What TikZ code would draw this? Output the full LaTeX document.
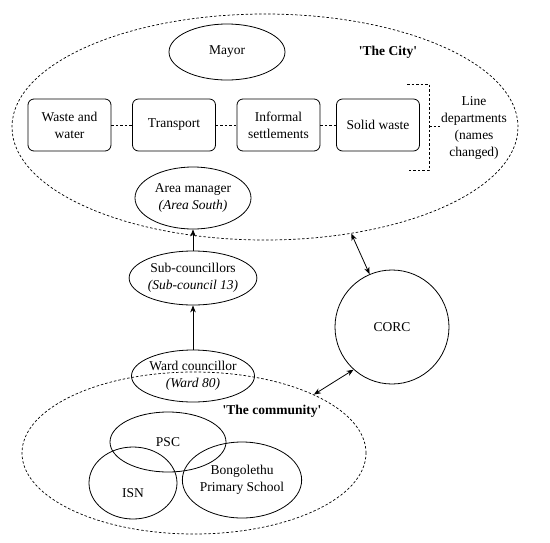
\documentclass[tikz,border=0pt]{standalone}
\usepackage{fontspec}
\setmainfont{Liberation Serif}
\usetikzlibrary{shapes.geometric,arrows.meta}
\begin{document}
\begin{tikzpicture}[x=1pt,y=-1pt,
 every node/.style={font=\fontsize{13.5}{17}\selectfont, align=center},
 ell/.style={draw, ellipse, inner sep=0pt, line width=0.8pt},
 dept/.style={draw, rounded corners=6pt, minimum width=83pt, minimum height=52pt, inner sep=0pt, line width=0.8pt},
 dsh/.style={dash pattern=on 2.5pt off 2pt, line width=0.7pt},
 arr/.style={-{Stealth[length=7pt,width=5.5pt]}, line width=0.8pt},
 darr/.style={{Stealth[length=7pt,width=5.5pt]}-{Stealth[length=7pt,width=5.5pt]}, line width=0.8pt},
 boldlabel/.style={font=\fontsize{13.5}{17}\selectfont\bfseries}]
\useasboundingbox (0,0) rectangle (550,542);

% The City
\node[draw, ellipse, dsh, minimum width=506pt, minimum height=226pt] (city) at (265,127) {};
\node[boldlabel] (citylabel) at (388,52) {\textquotesingle The City\textquotesingle};
\node[ell, minimum width=116pt, minimum height=56pt] (mayor) at (227,52) {Mayor};

\node[dept] (ww) at (69.5,125) {Waste and\\water};
\node[dept] (tr) at (174,125) {Transport};
\node[dept] (inf) at (278.5,125) {Informal\\settlements};
\node[dept] (sw) at (378,125) {Solid waste};
\draw[dsh] (ww) -- (tr);
\draw[dsh] (tr) -- (inf);
\draw[dsh] (inf) -- (sw);

\coordinate (b1) at (407,84);
\coordinate (b2) at (429,84);
\coordinate (b3) at (429,170);
\coordinate (b4) at (407,170);
\coordinate (bm) at (429,126);
\draw[dsh] (b1) -- (b2) -- (b3) -- (b4);
\node[inner sep=1pt] (lined) at (474,128) {Line\\departments\\(names\\changed)};
\draw[dsh] (bm) -- (lined.west |- bm);

\node[ell, minimum width=116pt, minimum height=62pt] (area) at (193,198) {Area manager\\\textit{(Area South)}};
\node[ell, minimum width=116pt, minimum height=54pt] (sub) at (193,278) {Sub-councillors\\\textit{(Sub-council 13)}};
\node[ell, minimum width=116pt, minimum height=52pt] (ward) at (193,376) {Ward councillor\\\textit{(Ward 80)}};
\draw[arr] (sub) -- (area);
\draw[arr] (ward) -- (sub);

\node[draw, circle, line width=0.8pt, minimum size=114pt, inner sep=0pt] (corc) at (392,327) {CORC};

% The community
\node[draw, ellipse, dsh, minimum width=344pt, minimum height=162pt] (comm) at (194,453) {};
\node[boldlabel] (commlabel) at (272,411) {\textquotesingle The community\textquotesingle};
\node[ell, minimum width=116pt, minimum height=60pt] (psc) at (168,442) {PSC};
\node[ell, minimum width=88pt, minimum height=72pt] (isn) at (133,483) {};
\node (isnt) at (133,493) {ISN};
\node[ell, minimum width=112pt, minimum height=76pt] (bong) at (242,480) {Bongolethu\\Primary School};

\draw[darr] (corc.113) -- (city.-51.3);
\draw[darr] (corc.228) -- (comm.26);
\end{tikzpicture}
\end{document}
